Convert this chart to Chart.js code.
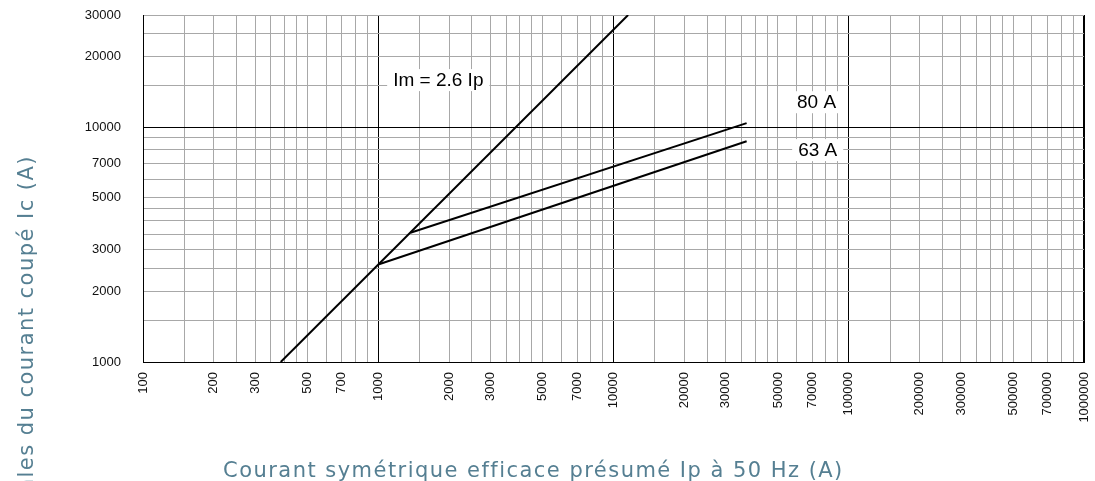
<!DOCTYPE html>
<html>
<head>
<meta charset="utf-8">
<script src="https://cdn.jsdelivr.net/npm/chart.js@4.4.1/dist/chart.umd.min.js"></script>
<style>
  html, body { margin: 0; padding: 0; background: #fff; }
  #wrap { width: 1095px; height: 481px; }
</style>
</head>
<body>
<div id="wrap"><canvas id="chart"></canvas></div>
<script>
// tick labels shown on each axis
const xLabels = [100, 200, 300, 500, 700, 1000, 2000, 3000, 5000, 7000, 10000,
  20000, 30000, 50000, 70000, 100000, 200000, 300000, 500000, 700000, 1000000];
const yLabels = [1000, 2000, 3000, 5000, 7000, 10000, 20000, 30000];
// grid lines inside each decade
const gridSteps = [1, 1.5, 2, 2.5, 3, 3.5, 4, 4.5, 5, 6, 7, 8, 9];
const darkX = [1000, 10000, 100000, 1000000];
const darkY = [10000];

// curves (Ip, Ic)
const limitLine = [{ x: 385, y: 1000 }, { x: 11540, y: 30000 }];
const fuse80 = [{ x: 1370, y: 3550 }, { x: 36800, y: 10400 }];
const fuse63 = [{ x: 1000, y: 2600 }, { x: 36800, y: 8700 }];

const notes = [
  { text: 'Im = 2.6 Ip', x: 1800, y: 15850 },
  { text: '80 A', x: 73000, y: 12760 },
  { text: '63 A', x: 73800, y: 7980 }
];

const xTitle = 'Courant symétrique efficace présumé Ip à 50 Hz (A)';
const yTitle = 'Valeurs maximales du courant coupé Ic (A)';
const titleColor = '#557f92';

function gridValues(min, max) {
  const out = [];
  for (let d = min; d < max; d *= 10) {
    gridSteps.forEach(s => { const v = d * s; if (v < max * 0.9999) out.push(v); });
  }
  out.push(max);
  return out;
}
const has = (list, v) => list.some(l => Math.abs(l - v) / l < 1e-6);

const notesAndTitles = {
  id: 'notesAndTitles',
  afterDatasetsDraw(chart) {
    const { ctx, scales: { x, y } } = chart;
    ctx.save();
    ctx.font = '19px "Liberation Sans", Arial, sans-serif';
    ctx.textAlign = 'center';
    ctx.textBaseline = 'middle';
    notes.forEach(n => {
      const px = x.getPixelForValue(n.x), py = y.getPixelForValue(n.y);
      const w = ctx.measureText(n.text).width;
      ctx.fillStyle = '#fff';
      ctx.fillRect(px - w / 2 - 6, py - 11, w + 12, 22);
      ctx.fillStyle = '#000';
      ctx.fillText(n.text, px, py + 1);
    });
    ctx.restore();
  },
  afterDraw(chart) {
    const { ctx } = chart;
    ctx.save();
    ctx.fillStyle = titleColor;
    ctx.font = '21px "DejaVu Sans", sans-serif';
    const w = ctx.measureText(xTitle).width;
    const sp = Math.max(0, (619 - w) / (xTitle.length - 1));
    ctx.letterSpacing = sp + 'px';
    ctx.textBaseline = 'alphabetic';
    ctx.textAlign = 'left';
    ctx.fillText(xTitle, 223, 477);
    ctx.translate(33, 155);
    ctx.rotate(-Math.PI / 2);
    ctx.textAlign = 'right';
    ctx.fillText(yTitle, 0, 0);
    ctx.restore();
  }
};

const lineStyle = { borderColor: '#000', borderWidth: 2, pointRadius: 0, showLine: true, fill: false };
const tickFont = { family: '"Liberation Sans", Arial, sans-serif', size: 13 };

new Chart(document.getElementById('chart'), {
  type: 'scatter',
  data: {
    datasets: [
      { data: limitLine, ...lineStyle },
      { data: fuse80, ...lineStyle },
      { data: fuse63, ...lineStyle }
    ]
  },
  options: {
    responsive: true,
    maintainAspectRatio: false,
    animation: false,
    layout: { padding: { top: 15, right: 11, left: 0, bottom: 0 } },
    plugins: { legend: { display: false }, tooltip: { enabled: false } },
    scales: {
      x: {
        type: 'logarithmic',
        min: 100,
        max: 1000000,
        afterBuildTicks: s => { s.ticks = gridValues(100, 1000000).map(v => ({ value: v })); },
        afterFit: s => { s.height = 119; s.paddingLeft = 0; s.paddingRight = 0; },
        border: { color: '#000', width: 1 },
        grid: {
          drawTicks: false,
          color: c => has(darkX, c.tick.value) ? '#000' : '#a8a8a8',
          lineWidth: c => c.tick.value >= 999999 ? 2 : 1
        },
        ticks: {
          autoSkip: false,
          minRotation: 90,
          maxRotation: 90,
          padding: 10,
          color: '#111',
          font: tickFont,
          callback: v => has(xLabels, v) ? String(Math.round(v)) : ''
        }
      },
      y: {
        type: 'logarithmic',
        min: 1000,
        max: 30000,
        afterBuildTicks: s => { s.ticks = gridValues(1000, 30000).map(v => ({ value: v })); },
        afterFit: s => { s.width = 143; s.paddingTop = 0; s.paddingBottom = 0; },
        border: { color: '#000', width: 1 },
        grid: {
          drawTicks: false,
          color: c => has(darkY, c.tick.value) ? '#000' : '#a8a8a8'
        },
        ticks: {
          autoSkip: false,
          padding: 22,
          color: '#111',
          font: tickFont,
          callback: v => has(yLabels, v) ? String(Math.round(v)) : ''
        }
      }
    }
  },
  plugins: [notesAndTitles]
});
</script>
</body>
</html>
